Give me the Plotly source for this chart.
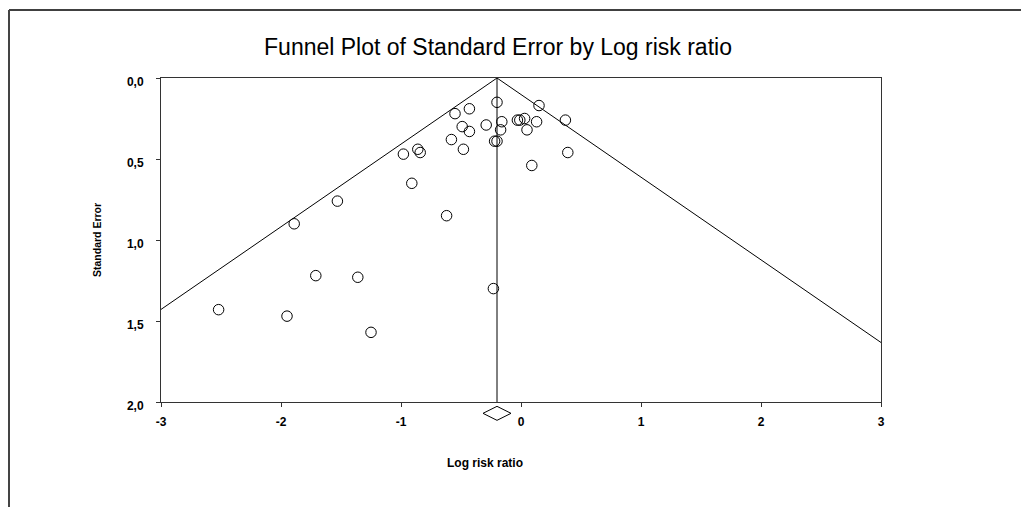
import plotly.graph_objects as go

# ---- data ----
log_rr = [-0.20, -0.43, -0.55, -0.49, -0.43, -0.29, -0.16, -0.17, -0.22, -0.20,
          -0.58, -0.48, -0.86, -0.84, -0.98, -0.91, -0.03, -0.01, 0.03, 0.15,
          0.13, 0.05, 0.37, 0.39, 0.09, -1.53, -0.62, -1.89, -1.71, -1.36,
          -0.23, -2.52, -1.95, -1.25]
std_err = [0.15, 0.19, 0.22, 0.30, 0.33, 0.29, 0.27, 0.32, 0.39, 0.39,
           0.38, 0.44, 0.44, 0.46, 0.47, 0.65, 0.26, 0.26, 0.25, 0.17,
           0.27, 0.32, 0.26, 0.46, 0.54, 0.76, 0.85, 0.90, 1.22, 1.23,
           1.30, 1.43, 1.47, 1.57]
summary_estimate = -0.20
z_crit = 1.96
se_max = 2.0
diamond_se = 2.07

x_ticks = [-3, -2, -1, 0, 1, 2, 3]
y_ticks = [0.0, 0.5, 1.0, 1.5, 2.0]

# funnel limits derived from summary estimate
funnel_x = [summary_estimate - z_crit * se_max, summary_estimate, summary_estimate + z_crit * se_max]
funnel_y = [se_max, 0.0, se_max]

FONT = "Liberation Sans, Arial, sans-serif"

# figure is placed 8px into the page by the body margin
W, H = 1021, 499
L, T, PW, PH = 153, 70, 720, 324
STRIP = 20                       # strip below the plot for the summary diamond
TOT = PH + STRIP
se_per_px = se_max / PH


def px(xr):
    return (xr - 8 - L) / PW


def py(yr):
    return (T + TOT - (yr - 8) - STRIP) / PH * (PH / TOT) + STRIP / TOT


fig = go.Figure()
fig.add_trace(go.Scatter(x=funnel_x, y=funnel_y, mode="lines",
                         line=dict(color="black", width=1), hoverinfo="skip"))
fig.add_trace(go.Scatter(x=[summary_estimate, summary_estimate], y=[0.0, se_max], mode="lines",
                         line=dict(color="black", width=1), hoverinfo="skip"))
fig.add_trace(go.Scatter(x=log_rr, y=std_err, mode="markers",
                         marker=dict(symbol="circle-open", size=10.5, color="black",
                                     line=dict(width=1, color="black"))))
fig.add_trace(go.Scatter(x=[summary_estimate], y=[diamond_se], mode="markers",
                         xaxis="x", yaxis="y2", cliponaxis=False,
                         marker=dict(symbol="diamond-wide-open", size=20, color="black",
                                     line=dict(width=1, color="black"))))

fig.update_layout(
    width=W, height=H,
    margin=dict(l=L, r=W - L - PW, t=T, b=H - T - TOT),
    paper_bgcolor="white", plot_bgcolor="rgba(0,0,0,0)",
    showlegend=False,
    separators=",.",
    title=dict(text="Funnel Plot of Standard Error by Log risk ratio",
               x=(498 - 8) / W, xref="container", xanchor="center",
               y=1 - (47 - 8) / H, yref="container", yanchor="middle",
               font=dict(family=FONT, size=23, color="black")),
    xaxis=dict(range=[-3, 3], tickvals=x_ticks, ticktext=[str(v) for v in x_ticks],
               anchor="y",
               showgrid=False, zeroline=False, showline=True, linecolor="#333", linewidth=1,
               mirror=True, ticks="outside", ticklen=4, tickcolor="#333",
               ticklabelstandoff=5,
               tickfont=dict(family=FONT, size=12, color="black", weight="bold")),
    yaxis=dict(range=[se_max, 0], domain=[STRIP / TOT, 1], tickvals=y_ticks, tickformat=".1f",
               anchor="x",
               showgrid=False, zeroline=False, showline=True, linecolor="#333", linewidth=1,
               mirror=True, ticks="outside", ticklen=4, tickcolor="#333",
               ticklabelstandoff=10, ticklabelshift=-4,
               tickfont=dict(family=FONT, size=12, color="black", weight="bold")),
    yaxis2=dict(range=[se_max + STRIP * se_per_px, se_max], domain=[0, STRIP / TOT],
                anchor="x", visible=False, showgrid=False, zeroline=False),
    annotations=[
        dict(text="Standard Error", xref="paper", yref="paper",
             x=px(97), y=py(240), textangle=-90, showarrow=False,
             xanchor="center", yanchor="middle",
             font=dict(family=FONT, size=10.5, color="black", weight="bold")),
        dict(text="Log risk ratio", xref="paper", yref="paper",
             x=px(485), y=py(463), showarrow=False,
             xanchor="center", yanchor="middle",
             font=dict(family=FONT, size=12, color="black", weight="bold")),
    ],
    shapes=[
        dict(type="line", xref="paper", yref="paper",
             x0=px(9), y0=py(10), x1=1.4, y1=py(10),
             line=dict(color="black", width=1.5)),
        dict(type="line", xref="paper", yref="paper",
             x0=px(9), y0=py(10), x1=px(9), y1=-0.6,
             line=dict(color="#444", width=2)),
    ],
)

fig.write_html("out.html")
